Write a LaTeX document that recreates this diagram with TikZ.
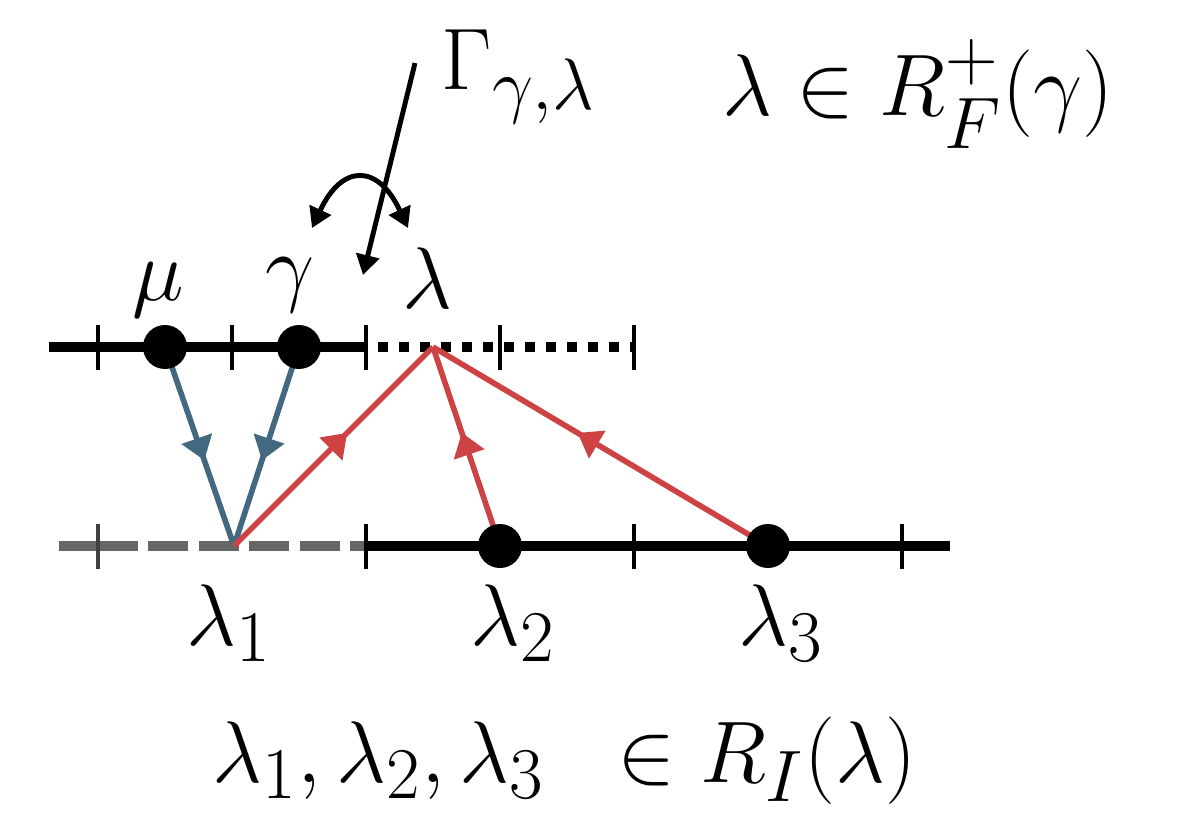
\documentclass[tikz,border=0pt]{standalone}
\usepackage{amsmath}
\usepackage{xcolor}
\usepackage{tikz}
\usetikzlibrary{arrows.meta,positioning,decorations.markings}

\definecolor{flowblue}{HTML}{42697F}
\definecolor{flowred}{HTML}{CD4343}

\begin{document}
\begin{tikzpicture}[
  font=\fontsize{24.88}{30}\selectfont,
  >={Triangle[length=2mm, width=2.3mm]},
  axis/.style={line width=2.8pt},
  tick/.style={line width=1.4pt},
  dot/.style={circle, fill=black, inner sep=0pt, minimum size=4.4mm},
  flow/.style={line width=1.6pt, postaction={decorate},
    decoration={markings, mark=at position 0.57 with
      {\arrow{Triangle[length=2.3mm, width=3.1mm]}}}},
  lbl/.style={inner sep=0pt, anchor=base},
  pointer/.style={line width=1.4pt, ->},
]
\useasboundingbox (0,0) rectangle (12,8.33);

% upper level (solid, then dotted)
\draw[axis] (0.49,4.86) -- (3.66,4.86);
\draw[axis, dash pattern=on 0.1cm off 0.11cm, dash phase=-0.12cm] (3.66,4.86) -- (6.34,4.86);
\foreach \x in {0.98,2.32,3.66,5.00,6.34}
  \draw[tick] (\x,4.635) -- (\x,5.085);

% lower level (grey dashed, then solid)
\draw[axis, black!60] (0.59,2.87) -- (0.98,2.87);
\draw[axis, black!60, dash pattern=on 0.4cm off 0.105cm] (0.98,2.87) -- (3.66,2.87);
\draw[axis] (3.66,2.87) -- (9.50,2.87);
\draw[tick, black!75] (0.98,2.645) -- (0.98,3.095);
\foreach \x in {3.66,6.34,9.02}
  \draw[tick] (\x,2.645) -- (\x,3.095);

% points on the levels
\coordinate (mu) at (1.65,4.86);
\coordinate (gam) at (2.99,4.86);
\coordinate (lam) at (4.33,4.86);
\coordinate (lam1) at (2.34,2.87);
\coordinate (lam2) at (5.00,2.87);
\coordinate (lam3) at (7.68,2.87);

% flows into lambda_1 and into lambda
\draw[flow, flowblue] (mu) -- (lam1);
\draw[flow, flowblue] (gam) -- (lam1);
\draw[flow, flowred] (lam1) -- (lam);
\draw[flow, flowred] (lam2) -- (lam);
\draw[flow, flowred] (lam3) -- (lam);

\node[dot] (mudot) at (mu) {};
\node[dot] (gamdot) at (gam) {};
\node[dot] (lamtwodot) at (lam2) {};
\node[dot] (lamthreedot) at (lam3) {};

% labels
\node[lbl] (mulbl) at (1.58,5.33) {$\mu$};
\node[lbl] (gamlbl) at (2.90,5.38) {$\gamma$};
\node[lbl] (lamlbl) at (4.27,5.25) {$\lambda$};
\node[lbl] (lamonelbl) at (2.29,1.88) {$\lambda_1$};
\node[lbl] (lamtwolbl) at (5.13,1.88) {$\lambda_2$};
\node[lbl] (lamthreelbl) at (7.81,1.88) {$\lambda_3$};
\node[lbl, anchor=base west] (rilbl) at (2.12,0.51)
  {$\lambda_1,\lambda_2,\lambda_3\mkern10mu\in R_I(\lambda)$};
\node[lbl, anchor=base west] (rflbl) at (7.22,7.18) {$\lambda \in R_F^+(\gamma)$};
\node[lbl, anchor=base west] (glbl) at (4.41,7.44) {$\Gamma_{\gamma,\lambda}$};

% pointer from Gamma and the swap arrow
\coordinate (gtail) at (4.15,7.70);
\coordinate (ghead) at (3.63,5.58);
\draw[pointer] (gtail) -- (ghead);
\coordinate (swapl) at (3.12,6.05);
\coordinate (swapr) at (4.08,6.05);
\draw[pointer, <->] (swapl) to[out=65, in=115, looseness=1.9] (swapr);
\end{tikzpicture}
\end{document}
